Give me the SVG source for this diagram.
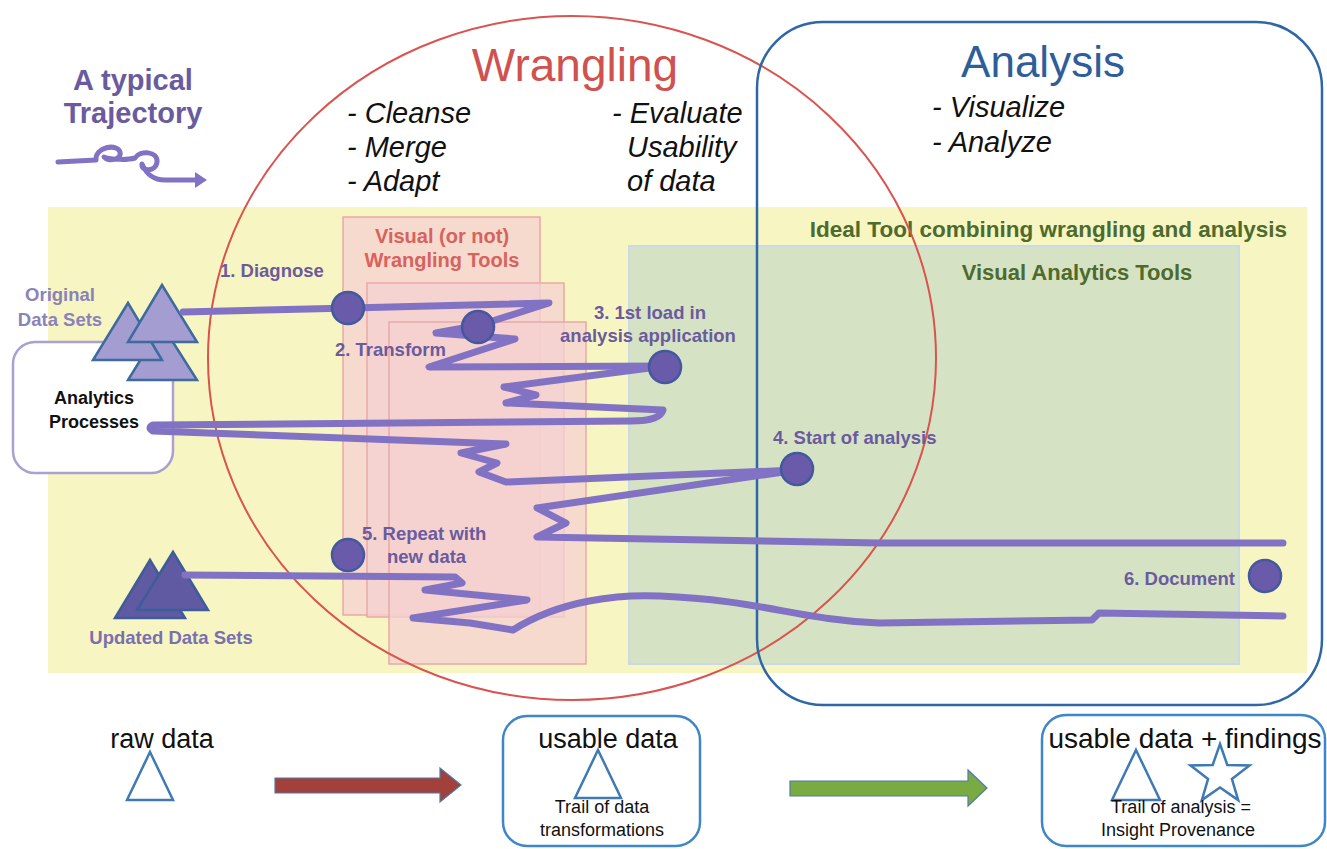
<svg xmlns="http://www.w3.org/2000/svg" width="1327" height="849" viewBox="0 0 1327 849">
<style>
text{font-family:"Liberation Sans",Arial,sans-serif}
.lab{font-size:18.5px;font-weight:bold;fill:#6a5b9e}
.lite{font-size:18.5px;font-weight:bold;fill:#8a82ba}
.it{font-size:29px;font-style:italic;fill:#111}
.bt{font-size:27px;fill:#111}
.sm{font-size:18px;fill:#111}
.traj{fill:none;stroke:#8272c4;stroke-width:7;stroke-linecap:round;stroke-linejoin:round}
.dot{fill:#6a5aaa;stroke:#44589e;stroke-width:2.5}
.pink{fill:#f4d0d0;fill-opacity:0.75;stroke:#eaa8a8;stroke-width:1.5}
.otri{fill:#fff;stroke:#3f7ab5;stroke-width:2.5}
.ltri{fill:#a39dd2;stroke:#3f6a9c;stroke-width:2.5}
.dtri{fill:#5f5aa2;stroke:#3f5c9a;stroke-width:2.5}
</style>

<rect width="1327" height="849" fill="#fff"/>

<g id="ideal-tool">
<rect x="48" y="207" width="1259" height="466" fill="#f7f5c2"/>
<text x="1287" y="237" text-anchor="end" style="font-size:22.5px;font-weight:bold;fill:#4e6a2c">Ideal Tool combining wrangling and analysis</text>
</g>

<g id="va-tools">
<rect x="629" y="246" width="610" height="418" fill="#d5e3c4" stroke="#cad9e6" stroke-width="2"/>
<text x="1077" y="280" text-anchor="middle" style="font-size:22px;font-weight:bold;fill:#4e6a2c">Visual Analytics Tools</text>
</g>

<g id="wrangling-tools">
<rect class="pink" x="343" y="217" width="197" height="398"/>
<rect class="pink" x="367" y="283" width="197" height="334"/>
<rect class="pink" x="389" y="322" width="197" height="342"/>
<text x="442" y="243" text-anchor="middle" style="font-size:20px;font-weight:bold;fill:#d8625d">Visual  (or not)</text>
<text x="442" y="267" text-anchor="middle" style="font-size:20px;font-weight:bold;fill:#d8625d">Wrangling Tools</text>
</g>

<g id="wrangling">
<ellipse cx="572" cy="358" rx="364" ry="342" fill="none" stroke="#d9534f" stroke-width="2"/>
<text x="575" y="81" text-anchor="middle" style="font-size:46px;fill:#d0524f">Wrangling</text>
<text class="it" x="347" y="123">- Cleanse</text>
<text class="it" x="347" y="157">- Merge</text>
<text class="it" x="347" y="191">- Adapt</text>
<text class="it" x="612" y="123">- Evaluate</text>
<text class="it" x="627" y="157">Usability</text>
<text class="it" x="627" y="191">of data</text>
</g>

<g id="analysis">
<rect x="757" y="22" width="565" height="683" rx="66" fill="none" stroke="#2f67a6" stroke-width="2.5"/>
<text x="1043" y="77" text-anchor="middle" style="font-size:44px;fill:#2e5e9a">Analysis</text>
<text class="it" x="932" y="117">- Visualize</text>
<text class="it" x="932" y="152">- Analyze</text>
</g>

<g id="typical-trajectory">
<text x="133" y="90" text-anchor="middle" style="font-size:29px;font-weight:bold;fill:#6a5b9e">A typical</text>
<text x="133" y="123" text-anchor="middle" style="font-size:29px;font-weight:bold;fill:#6a5b9e">Trajectory</text>
<path class="traj" style="stroke-width:5" d="M58,162 L96,160 C95,147 117,143 120,152 C122,160 108,162 104,157 C112,160 128,160 135,158 C140,150 158,151 157,162 C156,172 141,172 142,164 C146,173 152,180 165,180 L196,180"/>
<polygon points="195,172 207,180 195,188" fill="#8272c4"/>
</g>

<g id="analytics-processes">
<rect x="13" y="342" width="160" height="131" rx="22" fill="#fff" stroke="#aaa0d2" stroke-width="2.5"/>
<text x="94" y="404" text-anchor="middle" style="font-size:18px;font-weight:bold;fill:#111">Analytics</text>
<text x="94" y="428" text-anchor="middle" style="font-size:18px;font-weight:bold;fill:#111">Processes</text>
</g>

<g id="original-data">
<text x="60" y="301" text-anchor="middle" class="lite">Original</text>
<text x="60" y="326" text-anchor="middle" class="lite">Data Sets</text>
<polygon class="ltri" points="162,325 197,380 128,380"/>
<polygon class="ltri" points="128,303 162,360 93,360"/>
<polygon class="ltri" points="162,285 197,342 128,342"/>
</g>

<g id="updated-data">
<polygon class="dtri" points="150,560 185,618 115,618"/>
<polygon class="dtri" points="173,552 208,610 137,610"/>
<text x="171" y="644" text-anchor="middle" class="lite" style="fill:#7a70b0">Updated Data Sets</text>
</g>

<g id="connectors">
<path class="traj" d="M183,312 L351,308 L549,303 L480,325 L436,333 L515,339 L429,367 L665,366"/>
<path class="traj" d="M665,366 L504,387 L536,395 L506,403 L663,410 Q660,421 631,421 L153,425 Q147,428 153,431 L506,444 L461,453 L497,463 L479,472 L506,482 L797,470"/>
<path class="traj" d="M797,470 L537,508 L566,523 L537,537 L880,543 L1283,543"/>
<path class="traj" d="M185,575 L455,577 L462,583 L425,590 L527,600 L413,618 L470,623 L513,630 C560,600 620,594 660,596 C760,600 800,620 879,623 L1092,620 L1099,613 L1283,616"/>
</g>

<g id="step1"><circle class="dot" cx="348" cy="308" r="16"/><text class="lab" x="220" y="277">1. Diagnose</text></g>
<g id="step2"><circle class="dot" cx="478" cy="327" r="16"/><text class="lab" x="446" y="356" text-anchor="end">2. Transform</text></g>
<g id="step3"><circle class="dot" cx="665" cy="367" r="16"/><text class="lab" x="650" y="319" text-anchor="middle">3. 1st load in</text><text class="lab" x="648" y="342" text-anchor="middle">analysis application</text></g>
<g id="step4"><circle class="dot" cx="797" cy="469" r="16"/><text class="lab" x="773" y="444">4. Start of analysis</text></g>
<g id="step5"><circle class="dot" cx="348" cy="555" r="16"/><text class="lab" x="362" y="540">5. Repeat with</text><text class="lab" x="387" y="563">new data</text></g>
<g id="step6"><circle class="dot" cx="1265" cy="576" r="16"/><text class="lab" x="1235" y="585" text-anchor="end">6. Document</text></g>

<g id="raw-data">
<text class="bt" x="162" y="748" text-anchor="middle">raw data</text>
<polygon class="otri" points="150,752 173,800 127,800"/>
</g>

<g id="arrows">
<polygon points="275,778 440,778 440,768 461,785 440,802 440,793 275,793" fill="#a2403b" stroke="#4f7aa6" stroke-width="1.2"/>
<polygon points="790,781 968,781 968,770 987,788 968,806 968,796 790,796" fill="#7aab43" stroke="#4f7aa6" stroke-width="1.2"/>
</g>

<g id="usable-data">
<rect x="503" y="716" width="197" height="130" rx="24" fill="#fff" stroke="#3f86c8" stroke-width="2.5"/>
<text class="bt" x="608" y="748" text-anchor="middle">usable data</text>
<polygon class="otri" points="598,750 621,798 575,798"/>
<text class="sm" x="602" y="813" text-anchor="middle">Trail of data</text>
<text class="sm" x="602" y="836" text-anchor="middle">transformations</text>
</g>

<g id="findings">
<rect x="1042" y="715" width="283" height="131" rx="24" fill="#fff" stroke="#3f86c8" stroke-width="2.5"/>
<text class="bt" x="1185" y="748" text-anchor="middle" style="font-size:28px">usable data + findings</text>
<polygon class="otri" points="1136,750 1160,800 1112,800"/>
<polygon class="otri" points="1220,744 1227.3,764.9 1249.5,765.4 1231.9,778.9 1238.2,800.1 1220,787.5 1201.8,800.1 1208.1,778.9 1190.5,765.4 1212.7,764.9"/>
<text class="sm" x="1181" y="813" text-anchor="middle">Trail of analysis =</text>
<text class="sm" x="1178" y="836" text-anchor="middle">Insight Provenance</text>
</g>
</svg>
